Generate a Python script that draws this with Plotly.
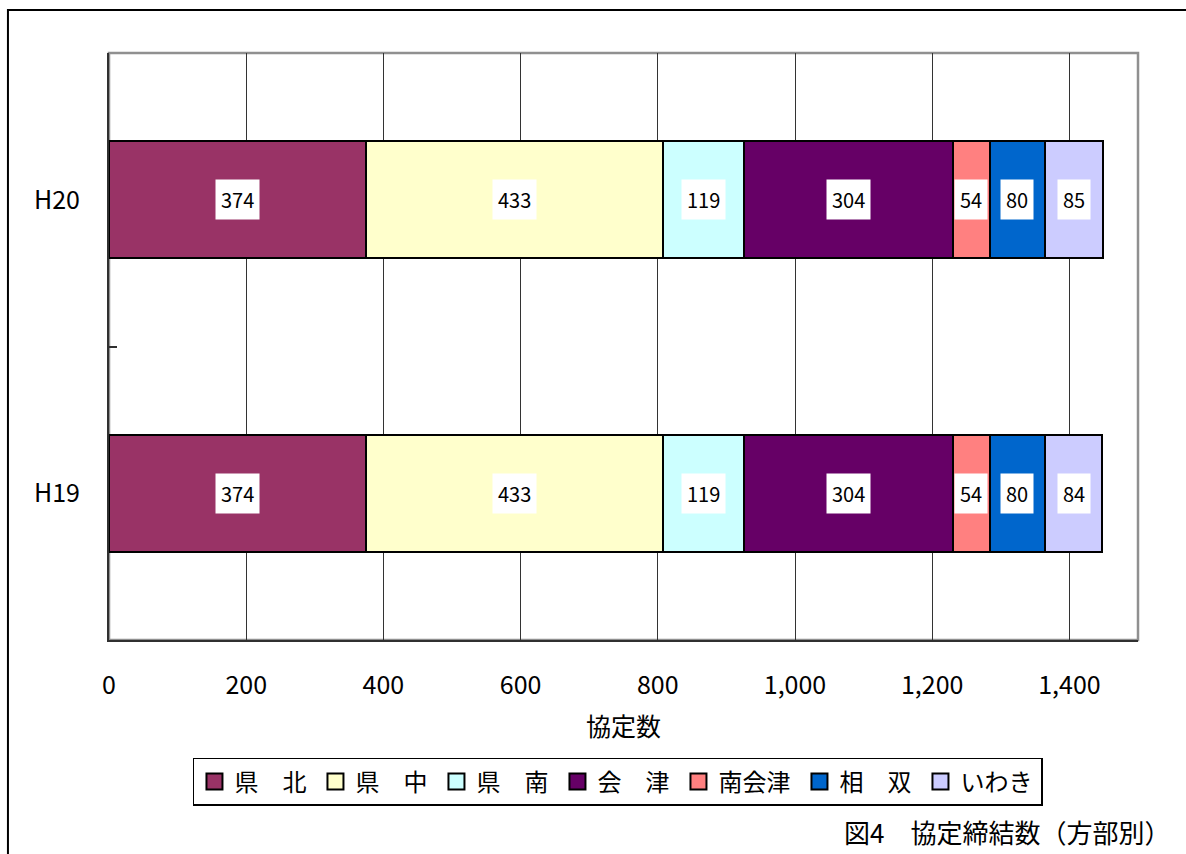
import plotly.graph_objects as go

categories = ["H20", "H19"]
series_names = ["県　北", "県　中", "県　南", "会　津", "南会津", "相　双", "いわき"]
series_values = [
    [374, 374],
    [433, 433],
    [119, 119],
    [304, 304],
    [54, 54],
    [80, 80],
    [85, 84],
]
colors = ["#993366", "#FFFFCC", "#CCFFFF", "#660066", "#FF8080", "#0066CC", "#CCCCFF"]
x_ticks = [0, 200, 400, 600, 800, 1000, 1200, 1400]
x_ticklabels = ["0", "200", "400", "600", "800", "1,000", "1,200", "1,400"]
axis_title = "協定数"
fig_title = "図4　協定締結数（方部別）"

FONT = "Noto Sans CJK JP"

fig = go.Figure()
for name, vals, col in zip(series_names, series_values, colors):
    fig.add_trace(go.Bar(
        y=categories, x=vals, name=name, orientation="h",
        marker=dict(color=col, line=dict(color="#000000", width=2)),
        hoverinfo="x+name", showlegend=False, legendgroup=name,
    ))
# legend-only markers (larger squares than the default bar swatch)
for name, col in zip(series_names, colors):
    fig.add_trace(go.Scatter(
        x=[None], y=[None], mode="markers", name=name, legendgroup=name,
        marker=dict(symbol="square", size=16, color=col, line=dict(color="#000000", width=2)),
        showlegend=True, hoverinfo="skip",
    ))

annotations = []
cum = [0] * len(categories)
for vals in series_values:
    for i, cat in enumerate(categories):
        mid = cum[i] + vals[i] / 2
        annotations.append(dict(
            x=mid, y=cat, xref="x", yref="y", text=str(vals[i]), showarrow=False,
            font=dict(family=FONT, size=20, color="#000000"),
            bgcolor="#FFFFFF", borderpad=5,
        ))
        cum[i] += vals[i]

annotations.append(dict(
    x=0.5, y=-0.145, xref="paper", yref="paper", text=axis_title, showarrow=False,
    font=dict(family=FONT, size=25, color="#000000"), xanchor="center", yanchor="middle",
))
annotations.append(dict(
    x=1.033, y=-0.327, xref="paper", yref="paper", text=fig_title, showarrow=False,
    font=dict(family=FONT, size=26, color="#000000"), xanchor="right", yanchor="middle",
))

shapes = [
    # outer frame
    dict(type="rect", xref="paper", yref="paper", x0=-0.0982, y0=-0.6, x1=1.2, y1=1.0733,
         line=dict(color="#000000", width=2), fillcolor="rgba(0,0,0,0)", layer="below"),
    # plot area border (top/right gray)
    dict(type="rect", xref="paper", yref="paper", x0=0, y0=0, x1=1, y1=1,
         line=dict(color="#909090", width=2.5), fillcolor="rgba(0,0,0,0)", layer="below"),
]

fig.update_layout(
    barmode="stack",
    bargap=0.6,
    width=1186, height=854,
    margin=dict(l=109, r=48, t=53, b=214),
    paper_bgcolor="#FFFFFF", plot_bgcolor="#FFFFFF",
    font=dict(family=FONT, color="#000000"),
    showlegend=True,
    legend=dict(
        orientation="h", x=0.0816, y=-0.201, xanchor="left", yanchor="top",
        traceorder="normal",
        bordercolor="#000000", borderwidth=1.5, bgcolor="#FFFFFF",
        font=dict(family=FONT, size=24, color="#000000"),
        entrywidth=76, entrywidthmode="pixels", itemsizing="trace",
        itemclick=False, itemdoubleclick=False,
    ),
    xaxis=dict(
        range=[0, 1500], tickvals=x_ticks, ticktext=x_ticklabels,
        showgrid=True, gridcolor="#333333", gridwidth=1.2,
        showline=True, linecolor="#303030", linewidth=2, mirror=False,
        zeroline=False, ticks="", ticklabelstandoff=22,
        tickfont=dict(family=FONT, size=25, color="#000000"),
        fixedrange=True,
    ),
    yaxis=dict(
        type="category", categoryorder="array", categoryarray=categories[::-1],
        showgrid=False, showline=True, linecolor="#303030", linewidth=2, mirror=False,
        ticks="inside", ticklen=8, tickwidth=1.5, tickcolor="#303030",
        tickson="boundaries", ticklabelstandoff=22,
        tickfont=dict(family=FONT, size=25, color="#000000"),
        fixedrange=True,
    ),
    annotations=annotations,
    shapes=shapes,
)

fig.write_html(
    "out.html",
    config={"displayModeBar": False},
    post_script="document.body.style.margin='0';document.body.style.padding='0';document.body.style.overflow='hidden';",
)
